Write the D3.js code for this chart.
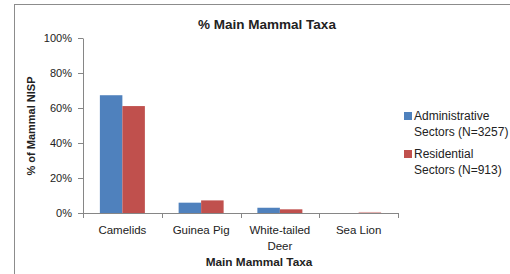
<!DOCTYPE html>
<html><head><meta charset="utf-8">
<script src="https://cdn.jsdelivr.net/npm/d3@7"></script>
<style>body{margin:0;background:#fff}svg{display:block}text{font-family:"Liberation Sans",Arial,sans-serif;fill:#222}</style>
</head><body><svg id="c" width="510" height="274"></svg>
<script>
const categories = ["Camelids","Guinea Pig","White-tailed Deer","Sea Lion"];
const seriesNames = ["Administrative Sectors (N=3257)","Residential Sectors (N=913)"];
const administrative = [67.3, 5.9, 3.0, 0.0];
const residential = [61.1, 7.2, 2.1, 0.6];
const yTicks = [0,20,40,60,80,100];
const colors = ["#4F81BD","#C0504D"];

(function(){
const svg = d3.select("#c");
svg.append("rect").attr("x",14.5).attr("y",4.5).attr("width",520).attr("height",300)
  .attr("fill","#fff").attr("stroke","#8c8c8c");

const pL=83, pR=398, pT=38, pB=213;
const x = d3.scaleBand().domain(categories).range([pL,pR]);
const y = d3.scaleLinear().domain([0,100]).range([pB,pT]);
const inner = d3.scaleBand().domain([0,1]).range([0,x.bandwidth()]).paddingOuter(0.75).paddingInner(0);

svg.append("text").attr("x",267).attr("y",29).attr("text-anchor","middle")
  .attr("font-weight","bold").attr("font-size",13.5).text("% Main Mammal Taxa");

const ya = svg.append("g").attr("transform",`translate(${pL},0)`)
  .call(d3.axisLeft(y).tickValues(yTicks).tickFormat(d=>d+"%").tickSize(5).tickSizeOuter(0));
ya.select(".domain").attr("stroke","#868686");
ya.selectAll(".tick line").attr("stroke","#868686");
ya.selectAll(".tick text").attr("font-size",11).attr("x",-11).attr("fill","#222")
  .attr("font-family","Liberation Sans, Arial, sans-serif");

const data = [administrative, residential];
categories.forEach((c,i)=>{
  data.forEach((s,j)=>{
    svg.append("rect").attr("x",x(c)+inner(j)).attr("width",inner.bandwidth())
      .attr("y",y(s[i])).attr("height",pB-y(s[i]))
      .attr("fill",colors[j]).attr("opacity", (i===3)?0.45:1);
  });
});

const xa = svg.append("g").attr("transform",`translate(0,${pB})`)
  .call(d3.axisBottom(x).tickSize(0).tickFormat(""));
xa.select(".domain").attr("stroke","#868686");
const edges = categories.map(c=>x(c)).concat([pR]);
svg.selectAll(".xt").data(edges).enter().append("line")
  .attr("x1",d=>Math.round(d)+0.5).attr("x2",d=>Math.round(d)+0.5)
  .attr("y1",pB).attr("y2",pB+5).attr("stroke","#868686");

categories.forEach(c=>{
  const cx = x(c)+x.bandwidth()/2;
  const parts = c==="White-tailed Deer" ? ["White-tailed","Deer"] : [c];
  parts.forEach((p,k)=>{
    svg.append("text").attr("x",cx).attr("y",234+k*16).attr("text-anchor","middle")
      .attr("font-size",11.5).text(p);
  });
});

svg.append("text").attr("x",259).attr("y",266).attr("text-anchor","middle")
  .attr("font-weight","bold").attr("font-size",11.8).text("Main Mammal Taxa");

svg.append("text").attr("transform","translate(35,126) rotate(-90)").attr("text-anchor","middle")
  .attr("font-weight","bold").attr("font-size",11).text("% of Mammal NISP");

const legLines = [["Administrative","Sectors (N=3257)"],["Residential","Sectors (N=913)"]];
legLines.forEach((ls,j)=>{
  const y0 = 112 + j*38;
  svg.append("rect").attr("x",404).attr("y",y0).attr("width",8).attr("height",8).attr("fill",colors[j]);
  ls.forEach((t,k)=>{
    svg.append("text").attr("x",414).attr("y",y0+7.5+k*16).attr("font-size",12).text(t);
  });
});
})();
</script></body></html>
